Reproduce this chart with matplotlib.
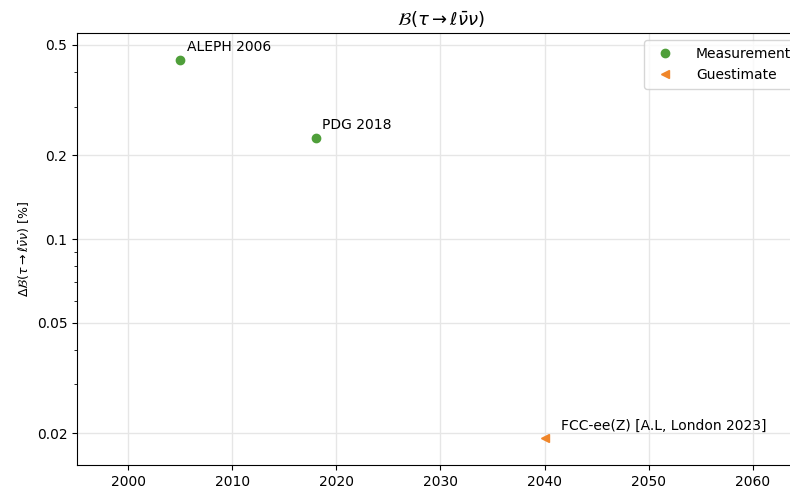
import matplotlib
matplotlib.use("Agg")
import matplotlib.pyplot as plt
from matplotlib.ticker import FixedLocator, FixedFormatter, LogLocator, NullFormatter

# measurements
meas_years = [2005, 2018]
meas_vals = [0.442, 0.232]
meas_labels = ["ALEPH 2006", "PDG 2018"]

# guesstimates
guess_years = [2040]
guess_vals = [0.0192]
guess_labels = ["FCC-ee(Z) [A.L, London 2023]"]

yticks = [0.02, 0.05, 0.1, 0.2, 0.5]
ytick_labels = ["0.02", "0.05", "0.1", "0.2", "0.5"]

fig = plt.figure(figsize=(7.9, 4.87), dpi=100)
ax = fig.add_axes([77/790, 22/487, (805-77)/790, (465-33)/487])

ax.plot(meas_years, meas_vals, 'o', color='#4f9f3a', markersize=6, label='Measurement')
ax.plot(guess_years, guess_vals, '<', color='#f0862a', markersize=6, label='Guestimate')

for x, y, s in zip(meas_years, meas_vals, meas_labels):
    ax.annotate(s, (x, y), xytext=(5, 6), textcoords='offset points', fontsize=10)
for x, y, s in zip(guess_years, guess_vals, guess_labels):
    ax.annotate(s, (x, y), xytext=(12, 6), textcoords='offset points', fontsize=10)

ax.set_yscale('log')
ax.set_ylim(0.01536, 0.552)
ax.set_xlim(1995.1, 2065)
ax.yaxis.set_major_locator(FixedLocator(yticks))
ax.yaxis.set_major_formatter(FixedFormatter(ytick_labels))
ax.yaxis.set_minor_locator(LogLocator(subs=range(2, 10)))
ax.yaxis.set_minor_formatter(NullFormatter())
ax.set_xticks([2000, 2010, 2020, 2030, 2040, 2050, 2060])

ax.grid(True, color='#e6e6e6', linewidth=1)
ax.set_axisbelow(True)
ax.set_title(r'$\mathcal{B}(\tau\to\ell\bar{\nu}\nu)$', fontsize=13)
ax.set_ylabel(r'$\Delta\mathcal{B}(\tau\to\ell\bar{\nu}\nu)$ [%]', fontsize=9)
ax.legend(loc='upper right', fontsize=10, borderpad=0.5, handletextpad=1.2)

fig.savefig("out.png", dpi=100)
